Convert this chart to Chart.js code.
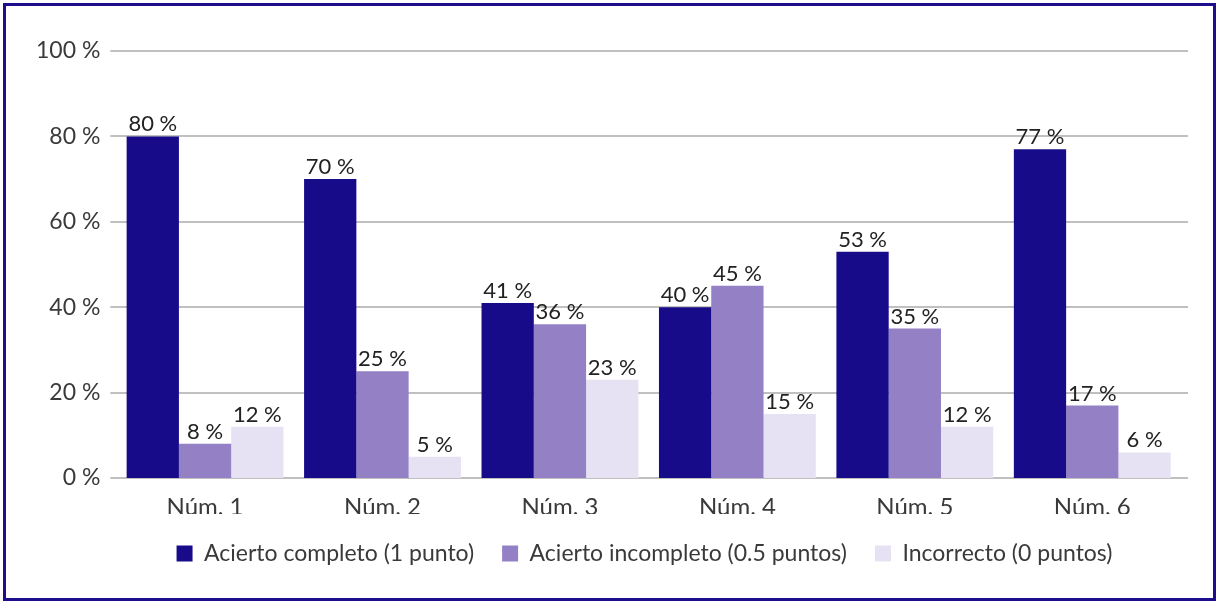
<!DOCTYPE html>
<html>
<head>
<meta charset="utf-8">
<script src="https://cdn.jsdelivr.net/npm/chart.js@4/dist/chart.umd.min.js"></script>
<style>
  body { margin: 0; background: #fff; }
  #box {
    position: absolute; left: 3px; top: 3px;
    width: 1207px; height: 592px;
    border: 3px solid #1c0e8c;
  }
  canvas { display: block; }
</style>
</head>
<body>
<div id="box"><canvas id="chart" width="1207" height="592"></canvas></div>
<script>
// categories and series
const categories = ["Núm. 1", "Núm. 2", "Núm. 3", "Núm. 4", "Núm. 5", "Núm. 6"];
const completo = [80, 70, 41, 40, 53, 77];
const incompleto = [8, 25, 36, 45, 35, 17];
const incorrecto = [12, 5, 23, 15, 12, 6];
const yTicks = [0, 20, 40, 60, 80, 100];

const font = "Lato";

// horizontal grid lines, a little wider than the bar area
const gridLines = {
  id: "gridLines",
  beforeDatasetsDraw(chart) {
    const ctx = chart.ctx, area = chart.chartArea, y = chart.scales.y;
    ctx.save();
    ctx.strokeStyle = "#c0c0c0";
    ctx.lineWidth = 2;
    y.ticks.forEach(t => {
      const py = Math.round(y.getPixelForValue(t.value));
      ctx.beginPath();
      ctx.moveTo(area.left - 6, py);
      ctx.lineTo(area.right + 7, py);
      ctx.stroke();
    });
    ctx.restore();
  }
};

// draws the value above each bar
const barLabels = {
  id: "barLabels",
  afterDatasetsDraw(chart) {
    const ctx = chart.ctx;
    ctx.save();
    ctx.font = "22px " + font;
    ctx.fillStyle = "#222";
    ctx.textAlign = "center";
    ctx.textBaseline = "bottom";
    chart.data.datasets.forEach((ds, i) => {
      chart.getDatasetMeta(i).data.forEach((bar, j) => {
        ctx.fillText(ds.data[j] + " %", bar.x, bar.y - 1);
      });
    });
    ctx.restore();
  }
};

// legend sits a bit right of the centre in the original
const legendShift = {
  id: "legendShift",
  afterLayout(chart) {
    chart.legend.left += 40;
    chart.legend.right += 40;
  }
};

new Chart(document.getElementById("chart"), {
  type: "bar",
  data: {
    labels: categories,
    datasets: [
      { label: "Acierto completo (1 punto)", data: completo, backgroundColor: "#170b8a" },
      { label: "Acierto incompleto (0.5 puntos)", data: incompleto, backgroundColor: "#9480c4" },
      { label: "Incorrecto (0 puntos)", data: incorrecto, backgroundColor: "#e6e2f4" }
    ]
  },
  options: {
    responsive: false,
    animation: false,
    layout: { padding: { left: 22, right: 32, top: 45, bottom: 23 } },
    datasets: { bar: { categoryPercentage: 0.884, barPercentage: 1 } },
    scales: {
      x: {
        grid: { display: false },
        border: { display: false },
        ticks: { color: "#3a3a3a", font: { family: font, size: 24 }, padding: 7 },
        afterFit: axis => { axis.height = 36; }
      },
      y: {
        min: 0, max: 100,
        afterBuildTicks: axis => { axis.ticks = yTicks.map(v => ({ value: v })); },
        grid: { display: false },
        border: { display: false },
        ticks: { color: "#3a3a3a", font: { family: font, size: 23 }, padding: 8, callback: v => v + " %" }
      }
    },
    plugins: {
      legend: {
        position: "bottom",
        labels: { color: "#3a3a3a", font: { family: font, size: 23 }, boxWidth: 16, boxHeight: 16, padding: 28 }
      },
      tooltip: { enabled: false }
    }
  },
  plugins: [gridLines, barLabels, legendShift]
});
</script>
</body>
</html>
